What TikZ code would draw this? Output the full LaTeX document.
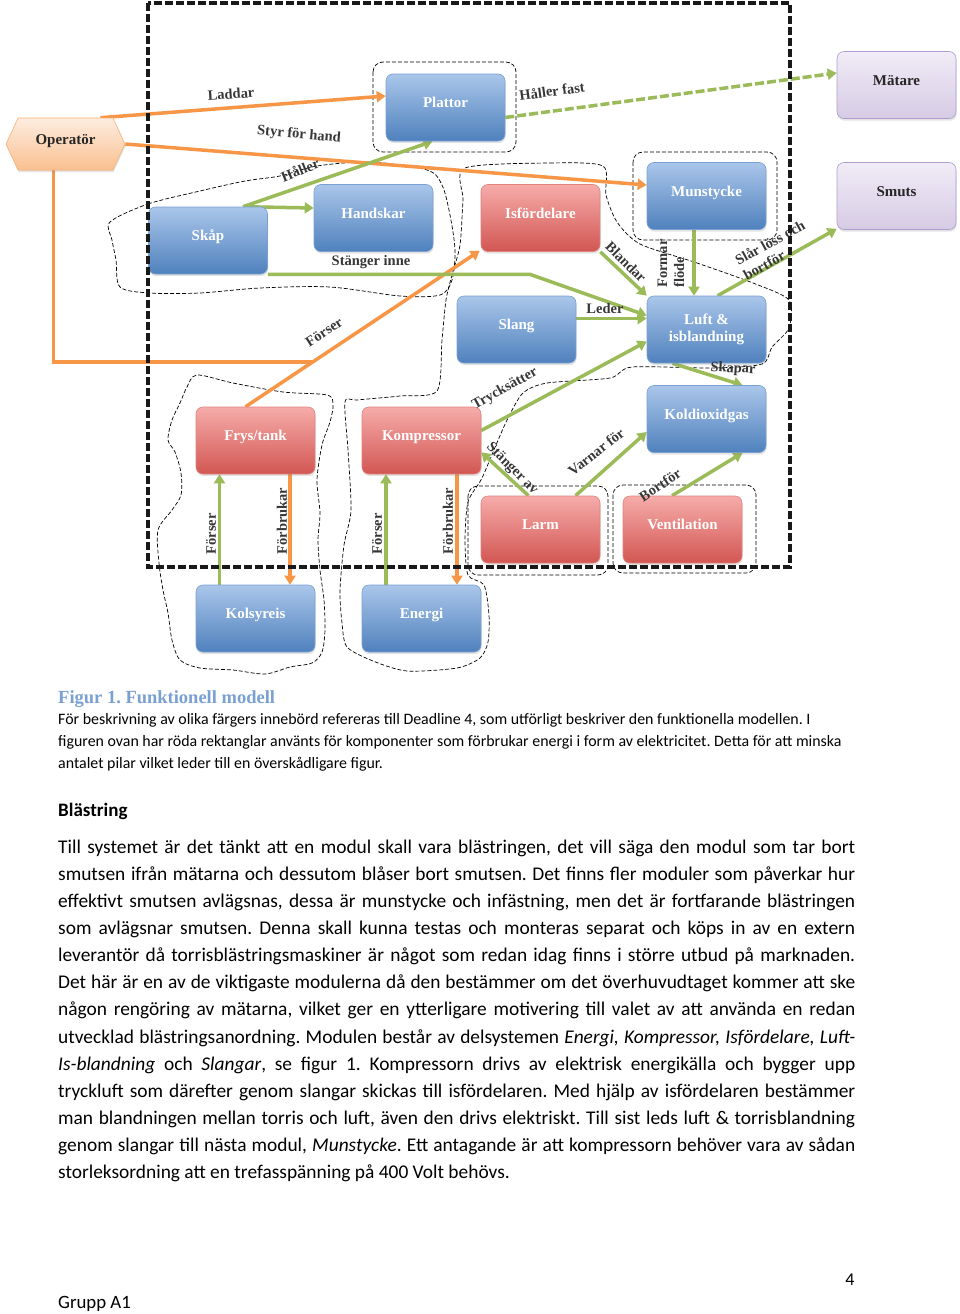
\documentclass[tikz,border=0pt]{standalone}
\usepackage{fontspec}
\setmainfont{Liberation Serif}
\newfontfamily\bodyfont{Carlito}
\usetikzlibrary{arrows.meta,shapes.symbols,shadows,calc,backgrounds}
\frenchspacing
\definecolor{corange}{RGB}{247,150,70}
\definecolor{cgreen}{RGB}{155,187,89}
\definecolor{bluetop}{RGB}{170,198,234}
\definecolor{bluebot}{RGB}{79,129,189}
\definecolor{blueline}{RGB}{120,160,210}
\definecolor{redtop}{RGB}{246,172,170}
\definecolor{redbot}{RGB}{210,86,82}
\definecolor{redline}{RGB}{225,130,125}
\definecolor{purtop}{RGB}{241,236,247}
\definecolor{purbot}{RGB}{214,203,228}
\definecolor{purline}{RGB}{175,158,205}
\definecolor{oratop}{RGB}{253,237,224}
\definecolor{orabot}{RGB}{250,192,144}
\definecolor{oraline}{RGB}{247,176,116}
\definecolor{lblgray}{RGB}{55,55,55}
\definecolor{captionblue}{RGB}{122,160,210}
\tikzset{
  boxbase/.style={shape=rectangle, rounded corners=7pt, minimum width=119pt, minimum height=67pt, inner sep=2pt, line width=0.6pt,
    font=\fontsize{15}{17}\selectfont\bfseries,
    drop shadow={shadow xshift=0.6pt, shadow yshift=-2.2pt, opacity=0.22}},
  onel/.style={text height=8pt, text depth=8pt},
  bluebox/.style={boxbase, draw=blueline, top color=bluetop, bottom color=bluebot, text=white},
  redbox/.style={boxbase, draw=redline, top color=redtop, bottom color=redbot, text=white},
  purbox/.style={boxbase, draw=purline, top color=purtop, bottom color=purbot, text=black!85},
  lbl/.style={font=\fontsize{14.5}{17}\selectfont\bfseries, text=lblgray, inner sep=1pt},
  garrow/.style={draw=cgreen, line width=3.5pt, -{Triangle[length=9pt,width=11pt]}},
  oarrow/.style={draw=corange, line width=3.5pt, -{Triangle[length=9pt,width=11pt]}},
  oline/.style={draw=corange, line width=3.5pt},
  blob/.style={draw=black, line width=0.7pt, dash pattern=on 4pt off 2pt},
  bigframe/.style={draw=black!90, line width=3.8pt, dash pattern=on 8pt off 3pt},
  bodyl/.style={anchor=base west, inner sep=0pt, font=\bodyfont\fontsize{19.4}{27}\selectfont},
  capl/.style={anchor=base west, inner sep=0pt, font=\bodyfont\fontsize{15.9}{22}\selectfont},
}
\newcommand{\jline}[1]{\makebox[797pt][s]{#1}}
\begin{document}
\begin{tikzpicture}[x=1pt,y=-1pt]
\useasboundingbox (0,0) rectangle (960,1314);

% ---------- boxes ----------
\node[shape=signal, signal to=east and west, signal pointer angle=130,
  minimum width=119pt, minimum height=52pt, inner sep=2pt, line width=0.6pt,
  draw=oraline, top color=oratop, bottom color=orabot, text=black!85,
  font=\fontsize{15}{17}\selectfont\bfseries, onel,
  drop shadow={shadow xshift=0.6pt, shadow yshift=-2.2pt, opacity=0.22}] (operator) at (65.5,144) {Operatör};
\node[bluebox,onel] (plattor) at (445.5,107.5) {Plattor};
\node[purbox,onel] (matare) at (896.5,85) {Mätare};
\node[purbox,onel] (smuts) at (896.5,196) {Smuts};
\node[bluebox,onel] (skap) at (208,240.5) {Skåp};
\node[bluebox,onel] (handskar) at (373.5,218) {Handskar};
\node[redbox,onel] (isford) at (540.5,218) {Isfördelare};
\node[bluebox,onel] (munstycke) at (706.5,196) {Munstycke};
\node[bluebox,onel] (slang) at (516.5,329.5) {Slang};
\node[bluebox,align=center] (luft) at (706.5,329.5) {Luft \&\\isblandning};
\node[bluebox,onel] (koldiox) at (706.5,419) {Koldioxidgas};
\node[redbox,onel] (frys) at (255.5,440.5) {Frys/tank};
\node[redbox,onel] (kompressor) at (421.5,440.5) {Kompressor};
\node[redbox,onel] (larm) at (540.5,529.5) {Larm};
\node[redbox,onel] (vent) at (682.5,529.5) {Ventilation};
\node[bluebox,onel] (kolsyreis) at (255.5,618.5) {Kolsyreis};
\node[bluebox,onel] (energi) at (421.5,618.5) {Energi};

% ---------- background: blobs and connectors ----------
\begin{scope}[on background layer]
\fill[white] (0,0) rectangle (960,1314);
% group outlines
\draw[blob] plot[smooth cycle, tension=0.5] coordinates {(110,222) (148,204) (200,191) (245,181) (280,176) (317,166) (370,162) (427,170) (442,185) (450,215) (455,250) (452,280) (440,295) (400,296) (330,287) (260,288) (200,293) (150,293) (120,287) (116,260) (112,240)};
\draw[blob] plot[smooth cycle, tension=0.45] coordinates {(465,168) (550,163) (603,166) (606,195) (617,222) (640,244) (697,263) (753,283) (789,300) (789,328) (772,347) (762,364) (713,368) (632,367) (610,378) (547,383) (523,393) (508,418) (496,445) (482,478) (468,502) (465,540) (468,575) (484,585) (489,615) (488,642) (480,658) (457,668) (407,671) (373,661) (347,647) (342,623) (340,590) (344,545) (351,510) (348,450) (345,402) (357,400) (400,396) (437,391) (442,340) (446,300) (452,275) (460,245) (463,200)};
\draw[blob] plot[smooth cycle, tension=0.5] coordinates {(197,375) (233,383) (283,392) (327,395) (333,405) (330,422) (322,445) (317,480) (320,513) (318,540) (320,570) (324,600) (325,630) (322,652) (312,663) (290,667) (265,674) (233,670) (200,668) (180,660) (172,640) (168,613) (163,590) (159,563) (158,530) (172,510) (181,495) (181,473) (175,452) (168,440) (172,420) (180,403) (187,387)};
\draw[blob, rounded corners=10pt] (373,62) rectangle (516,152);
\draw[blob, rounded corners=10pt] (633,152) rectangle (777,240);
\draw[blob, rounded corners=10pt] (468,486) rectangle (608,575);
\draw[blob, rounded corners=10pt] (613,485) rectangle (756,573);

% orange connectors
\draw[oarrow] ([xshift=35pt]operator.north) -- ([yshift=11.5pt]plattor.west);
\draw[oarrow] (operator.east) -- ([yshift=11pt]munstycke.west);
\coordinate (fA) at ([xshift=-10pt]frys.north);
\coordinate (fB) at ([xshift=-1pt,yshift=1pt]isford.south west);
\coordinate (fJ) at ($(fA)!0.287!(fB)$);
\draw[oline] ([xshift=-12pt]operator.south) |- (fJ);
\draw[oarrow] (fA) -- (fB);
\draw[oarrow] ([xshift=34.5pt]frys.south) -- ([xshift=34.5pt]kolsyreis.north);
\draw[oarrow] ([xshift=35.5pt]kompressor.south) -- ([xshift=35.5pt]energi.north);

% green connectors
\coordinate (sk) at ([xshift=35pt]skap.north);
\draw[garrow] (sk) -- ([yshift=10pt]handskar.west);
\draw[garrow] (sk) -- ([xshift=-13pt]plattor.south);
\draw[garrow] (skap.south east) -- ++(262,0) -- ([yshift=14pt]luft.west);
\draw[garrow] (isford.south east) -- (luft.north west);
\draw[garrow] ([yshift=11pt]slang.east) -- ([yshift=11pt]luft.west);
\draw[garrow] ([xshift=-12.5pt]munstycke.south) -- ([xshift=-12.5pt]luft.north);
\draw[garrow] ([xshift=11pt]luft.north) -- ([yshift=1pt]smuts.south west);
\draw[garrow] ([xshift=-34pt]luft.south) -- ([xshift=36pt]koldiox.north);
\draw[garrow] ([yshift=10pt]kompressor.east) -- ([yshift=-12pt]luft.west);
\draw[garrow] ([xshift=-12pt]larm.north) -- ([yshift=22pt]kompressor.south east);
\draw[garrow] ([xshift=35pt]larm.north) -- ([yshift=-13pt]koldiox.west);
\draw[garrow] ([xshift=-10.5pt]vent.north) -- ([xshift=36pt]koldiox.south);
\draw[garrow] ([xshift=-36pt]kolsyreis.north) -- ([xshift=-36pt]frys.south);
\draw[garrow] ([xshift=-35.5pt]energi.north) -- ([xshift=-35.5pt]kompressor.south);
\draw[garrow, dash pattern=on 9pt off 3pt] ([yshift=-10pt]plattor.east) -- ([yshift=12pt]matare.west);
\end{scope}

% ---------- connector labels ----------
\node[lbl, rotate=4] (lLaddar) at (231,94) {Laddar};
\node[lbl, rotate=-5] (lStyr) at (299,135) {Styr för hand};
\node[lbl, rotate=22] (lHaller) at (300,170) {Håller};
\node[lbl] (lStangerinne) at (371,262) {Stänger inne};
\node[lbl, rotate=-45] (lBlandar) at (626,262) {Blandar};
\node[lbl] (lLeder) at (605,309) {Leder};
\node[lbl, rotate=90, align=left] (lFormar) at (671,263.5) {Formar\\flöde};
\node[lbl, rotate=29, align=left] (lSlar) at (774,250) {Slår löss och\\bortför};
\node[lbl, rotate=-3] (lSkapar) at (733,369) {Skapar};
\node[lbl, rotate=29] (lTryck) at (505,389) {Trycksätter};
\node[lbl, rotate=-45] (lStangerav) at (512,469) {Stänger av};
\node[lbl, rotate=38] (lVarnar) at (596,452) {Varnar för};
\node[lbl, rotate=34] (lBortfor) at (660,485) {Bortför};
\node[lbl, rotate=33] (lForserO) at (324,332) {Förser};
\node[lbl, rotate=90] (lForser1) at (211,534) {Förser};
\node[lbl, rotate=90] (lForbrukar1) at (282,521) {Förbrukar};
\node[lbl, rotate=90] (lForser2) at (377,534) {Förser};
\node[lbl, rotate=90] (lForbrukar2) at (448,521) {Förbrukar};
\node[lbl, rotate=8] (lHallerfast) at (552,91) {Håller fast};

% ---------- system frame ----------
\draw[bigframe] (148,3) rectangle (790,567);

% ---------- caption and text ----------
\node[anchor=base west, inner sep=0pt, font=\fontsize{18.5}{20}\selectfont\bfseries, text=captionblue] (figcap) at (58,703) {Figur 1. Funktionell modell};
\node[capl] (cap1) at (58,724.5) {För beskrivning av olika färgers innebörd refereras till Deadline 4, som utförligt beskriver den funktionella modellen. I};
\node[capl] (cap2) at (58,746.5) {figuren ovan har röda rektanglar använts för komponenter som förbrukar energi i form av elektricitet. Detta för att minska};
\node[capl] (cap3) at (58,768.5) {antalet pilar vilket leder till en överskådligare figur.};

\node[anchor=base west, inner sep=0pt, font=\bodyfont\fontsize{19}{20}\selectfont\bfseries] (rubrik) at (58,816) {Blästring};

\node[bodyl] (b1) at (58,853.5) {\jline{Till systemet är det tänkt att en modul skall vara blästringen, det vill säga den modul som tar bort}};
\node[bodyl] (b2) at (58,880.58) {\jline{smutsen ifrån mätarna och dessutom blåser bort smutsen. Det finns fler moduler som påverkar hur}};
\node[bodyl] (b3) at (58,907.66) {\jline{effektivt smutsen avlägsnas, dessa är munstycke och infästning, men det är fortfarande blästringen}};
\node[bodyl] (b4) at (58,934.74) {\jline{som avlägsnar smutsen. Denna skall kunna testas och monteras separat och köps in av en extern}};
\node[bodyl] (b5) at (58,961.82) {\jline{leverantör då torrisblästringsmaskiner är något som redan idag finns i större utbud på marknaden.}};
\node[bodyl] (b6) at (58,988.9) {\jline{Det här är en av de viktigaste modulerna då den bestämmer om det överhuvudtaget kommer att ske}};
\node[bodyl] (b7) at (58,1015.98) {\jline{någon rengöring av mätarna, vilket ger en ytterligare motivering till valet av att använda en redan}};
\node[bodyl] (b8) at (58,1043.06) {\jline{utvecklad blästringsanordning. Modulen består av delsystemen \textit{Energi, Kompressor, Isfördelare, Luft-}}};
\node[bodyl] (b9) at (58,1070.14) {\jline{\textit{Is-blandning} och \textit{Slangar}, se figur 1. Kompressorn drivs av elektrisk energikälla och bygger upp}};
\node[bodyl] (b10) at (58,1097.22) {\jline{tryckluft som därefter genom slangar skickas till isfördelaren. Med hjälp av isfördelaren bestämmer}};
\node[bodyl] (b11) at (58,1124.3) {\jline{man blandningen mellan torris och luft, även den drivs elektriskt. Till sist leds luft \& torrisblandning}};
\node[bodyl] (b12) at (58,1151.38) {\jline{genom slangar till nästa modul, \textit{Munstycke}. Ett antagande är att kompressorn behöver vara av sådan}};
\node[bodyl] (b13) at (58,1178.46) {storleksordning att en trefasspänning på 400 Volt behövs.};

\node[anchor=base, inner sep=0pt, font=\bodyfont\fontsize{18}{20}\selectfont] (pagenum) at (850,1285) {4};
\node[anchor=base west, inner sep=0pt, font=\bodyfont\fontsize{18.8}{20}\selectfont] (grupp) at (58,1308) {Grupp A1};
\end{tikzpicture}
\end{document}
